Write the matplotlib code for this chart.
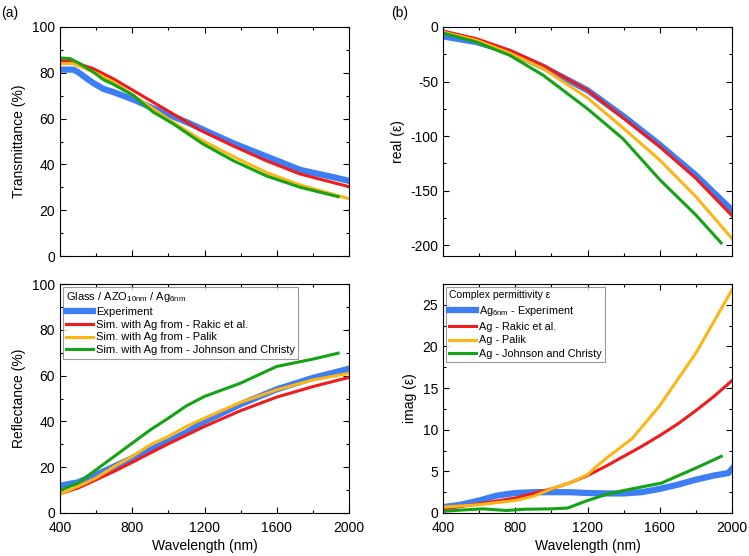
import numpy as np
import matplotlib.pyplot as plt
from matplotlib.ticker import MultipleLocator, AutoMinorLocator

plt.rcParams['font.family'] = ['Liberation Sans', 'DejaVu Sans']
plt.rcParams['mathtext.default'] = 'regular'
plt.rcParams['axes.unicode_minus'] = False

# cores
azul = '#3d7ef5'
vermelho = '#f01c1c'
amarelo = '#fdb515'
verde = '#14a314'

# (a) transmitancia
wl_T_exp = [400, 475, 500, 550, 585, 640, 695, 770, 825, 900, 990, 1100, 1175, 1360, 1545, 1730, 1915, 2000]
T_exp = [81.4, 81.4, 80.3, 77.4, 75.5, 73.0, 71.6, 69.4, 67.7, 65.0, 62.1, 58.5, 55.8, 49.2, 43.4, 37.6, 34.4, 32.8]
wl_T_sim = [400, 475, 585, 695, 805, 915, 1025, 1175, 1360, 1545, 1730, 1915, 2000]
T_rakic = [85.4, 84.7, 81.8, 77.4, 72.3, 67.2, 62.1, 55.0, 48.0, 41.5, 35.8, 32.0, 30.3]
T_palik = [84.0, 84.0, 80.3, 76.0, 70.2, 64.3, 58.5, 51.0, 43.4, 36.4, 31.0, 26.9, 25.0]
wl_T_jc = [400, 455, 510, 585, 640, 695, 805, 860, 915, 1025, 1190, 1360, 1545, 1730, 1940]
T_jc = [86.5, 86.2, 84.0, 80.3, 77.0, 75.0, 70.2, 66.5, 62.9, 57.8, 49.0, 41.6, 34.9, 30.0, 25.9]

# (a) refletancia
wl_R = [400, 500, 600, 700, 800, 900, 1000, 1100, 1200, 1400, 1600, 1800, 2000]
R_exp = [11.9, 13.4, 16.7, 20.3, 24.0, 27.6, 31.3, 35.2, 40.0, 47.5, 54.0, 59.0, 63.0]
R_rakic = [8.4, 10.9, 14.5, 18.2, 22.1, 26.2, 30.2, 34.0, 37.8, 44.7, 50.6, 55.2, 59.2]
R_palik = [8.3, 11.6, 15.3, 20.3, 24.7, 29.8, 33.4, 37.8, 41.4, 48.3, 53.8, 58.1, 61.0]
wl_R_jc = [400, 500, 600, 700, 800, 900, 1000, 1100, 1200, 1400, 1600, 1800, 1940]
R_jc = [9.9, 13.1, 18.9, 24.7, 30.5, 36.3, 41.4, 46.8, 50.9, 56.7, 64.0, 67.2, 69.8]

# (b) parte real
wl_re = [400, 585, 770, 955, 1200, 1400, 1600, 1800, 2000]
re_exp = [-8.6, -13.8, -22.9, -36.7, -58, -82, -108, -136, -168]
re_rakic = [-3.7, -10.7, -21.4, -35.2, -58, -83.7, -109.7, -138.8, -173]
re_palik = [-4.6, -12.2, -23.9, -38.2, -65, -93, -122, -155.6, -194]
wl_re_jc = [400, 585, 770, 955, 1200, 1396, 1600, 1800, 1940]
re_jc = [-5.5, -13.8, -26, -44.3, -75, -102.4, -140, -172.4, -198]

# (b) parte imaginaria
wl_im_exp = [400, 500, 600, 700, 800, 900, 1000, 1100, 1200, 1300, 1400, 1500, 1600, 1700, 1800, 1900, 1980, 2000]
im_exp = [0.7, 1.0, 1.5, 2.1, 2.4, 2.5, 2.5, 2.5, 2.4, 2.35, 2.35, 2.5, 2.9, 3.4, 4.0, 4.5, 4.8, 5.3]
wl_im_rakic = [400, 600, 800, 1000, 1100, 1200, 1300, 1400, 1500, 1600, 1700, 1800, 1900, 2000]
im_rakic = [0.5, 1.1, 1.8, 2.9, 3.6, 4.5, 5.6, 6.8, 8.0, 9.3, 10.7, 12.3, 14.0, 15.9]
wl_im_palik = [400, 600, 800, 900, 1000, 1100, 1200, 1250, 1300, 1450, 1600, 1800, 2000]
im_palik = [0.7, 1.0, 1.5, 2.0, 2.9, 3.6, 4.6, 5.6, 6.5, 9.0, 12.9, 19.2, 26.8]
wl_im_jc = [400, 500, 620, 750, 850, 1000, 1090, 1200, 1300, 1400, 1610, 1800, 1940]
im_jc = [0.2, 0.35, 0.5, 0.3, 0.45, 0.5, 0.6, 1.5, 2.2, 2.7, 3.6, 5.4, 6.8]

fig = plt.figure(figsize=(7.49, 5.56), dpi=100)
larg, alt = 289 / 749, 229 / 556
ax_T = fig.add_axes([60 / 749, 300 / 556, larg, alt])
ax_R = fig.add_axes([60 / 749, 43 / 556, larg, alt])
ax_re = fig.add_axes([443 / 749, 300 / 556, larg, alt])
ax_im = fig.add_axes([443 / 749, 43 / 556, larg, alt])

lw_exp, lw_sim = 4.5, 2.2

ax_T.plot(wl_T_exp, T_exp, color=azul, lw=lw_exp)
ax_T.plot(wl_T_sim, T_rakic, color=vermelho, lw=lw_sim)
ax_T.plot(wl_T_sim, T_palik, color=amarelo, lw=lw_sim)
ax_T.plot(wl_T_jc, T_jc, color=verde, lw=lw_sim)

ax_R.plot(wl_R, R_exp, color=azul, lw=lw_exp, label='Experiment')
ax_R.plot(wl_R, R_rakic, color=vermelho, lw=lw_sim, label='Sim. with Ag from - Rakic et al.')
ax_R.plot(wl_R, R_palik, color=amarelo, lw=lw_sim, label='Sim. with Ag from - Palik')
ax_R.plot(wl_R_jc, R_jc, color=verde, lw=lw_sim, label='Sim. with Ag from - Johnson and Christy')

ax_re.plot(wl_re, re_exp, color=azul, lw=lw_exp)
ax_re.plot(wl_re, re_rakic, color=vermelho, lw=lw_sim)
ax_re.plot(wl_re, re_palik, color=amarelo, lw=lw_sim)
ax_re.plot(wl_re_jc, re_jc, color=verde, lw=lw_sim)

ax_im.plot(wl_im_exp, im_exp, color=azul, lw=lw_exp, label=r'Ag$_{6nm}$ - Experiment')
ax_im.plot(wl_im_rakic, im_rakic, color=vermelho, lw=lw_sim, label='Ag - Rakic et al.')
ax_im.plot(wl_im_palik, im_palik, color=amarelo, lw=lw_sim, label='Ag - Palik')
ax_im.plot(wl_im_jc, im_jc, color=verde, lw=lw_sim, label='Ag - Johnson and Christy')

for ax in [ax_T, ax_R, ax_re, ax_im]:
    ax.set_xlim(400, 2000)
    ax.xaxis.set_major_locator(MultipleLocator(400))
    ax.xaxis.set_minor_locator(AutoMinorLocator(2))
    ax.yaxis.set_minor_locator(AutoMinorLocator(2))
    ax.tick_params(which='both', direction='in', top=True, right=True, labelsize=10, width=0.8)
    ax.tick_params(which='major', length=4)
    ax.tick_params(which='minor', length=2.5)
    ax.tick_params(axis='x', pad=5.5)

for ax in [ax_T, ax_R]:
    ax.set_ylim(0, 100)
    ax.yaxis.set_major_locator(MultipleLocator(20))
ax_re.set_ylim(-210, 0)
ax_re.yaxis.set_major_locator(MultipleLocator(50))
ax_im.set_ylim(0, 27.5)
ax_im.yaxis.set_major_locator(MultipleLocator(5))

ax_T.tick_params(labelbottom=False)
ax_re.tick_params(labelbottom=False)

ax_T.set_ylabel('Transmittance (%)', fontsize=10)
ax_R.set_ylabel('Reflectance (%)', fontsize=10)
ax_re.set_ylabel('real (ε)', fontsize=10)
ax_im.set_ylabel('imag (ε)', fontsize=10)
ax_R.set_xlabel('Wavelength (nm)', fontsize=10, labelpad=3)
ax_im.set_xlabel('Wavelength (nm)', fontsize=10, labelpad=3)

leg1 = ax_R.legend(title=r'Glass / AZO$_{10nm}$ / Ag$_{6nm}$', loc='upper left', fontsize=8,
                   title_fontsize=8, alignment='left', fancybox=False, edgecolor='gray',
                   borderaxespad=0.25, handlelength=2.4, handletextpad=0.3,
                   labelspacing=0.25, borderpad=0.3)
leg1.get_frame().set_linewidth(0.8)
leg2 = ax_im.legend(title='Complex permittivity ε', loc='upper left', fontsize=7.8,
                    title_fontsize=7.5, alignment='left', fancybox=False, edgecolor='gray',
                    borderaxespad=0.25, handlelength=2.5, handletextpad=0.3,
                    labelspacing=0.35, borderpad=0.3)
leg2.get_frame().set_linewidth(0.8)

fig.text(0.002, 0.99, '(a)', fontsize=10, va='top')
fig.text(391 / 749, 0.99, '(b)', fontsize=10, va='top')

fig.savefig('out.png', dpi=100)
